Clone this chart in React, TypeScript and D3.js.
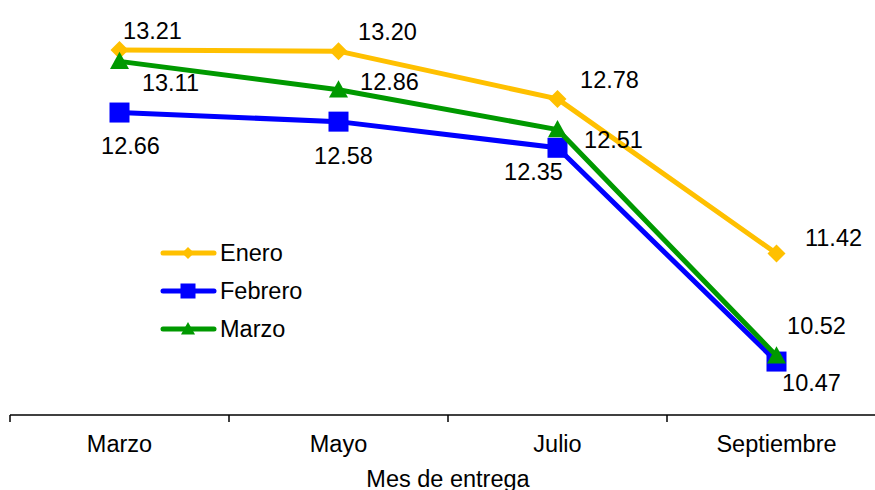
import React from "react";
import * as d3 from "d3";

const months = ["Marzo", "Mayo", "Julio", "Septiembre"];
const seriesNames = ["Enero", "Febrero", "Marzo"];
const enero = [13.21, 13.2, 12.78, 11.42];
const febrero = [12.66, 12.58, 12.35, 10.47];
const marzo = [13.11, 12.86, 12.51, 10.52];
const colors = ["#FFC000", "#0000FF", "#009900"];
const shapes = ["diamond", "square", "triangle"];
const xTitle = "Mes de entrega";

// label offsets (dx, dy of label centre relative to its point)
const labelOffsets = [
  [[33, -19], [49, -19], [52, -19], [57, -16]],
  [[11, 33], [5, 34], [-24, 24], [35, 21]],
  [[51, 21], [51, -8], [56, 10], [40, -30]],
];

const W = 875;
const H = 490;
const axisY = 415;
const FONT = "'Liberation Sans', Arial, sans-serif";
const FS = 23.5;

function Marker({ shape, x, y, color, s }: { shape: string; x: number; y: number; color: string; s: number }) {
  if (shape === "diamond") {
    const r = s * 0.5;
    return <path d={`M${x},${y - r}L${x + r},${y}L${x},${y + r}L${x - r},${y}Z`} fill={color} />;
  }
  if (shape === "square") {
    const r = s * 0.5;
    return <rect x={x - r} y={y - r} width={2 * r} height={2 * r} fill={color} />;
  }
  const r = s * 0.5;
  return <path d={`M${x},${y - r}L${x + r},${y + r * 0.8}L${x - r},${y + r * 0.8}Z`} fill={color} />;
}

export default function App() {
  const data = [enero, febrero, marzo];
  const x = d3.scaleBand<string>().domain(months).range([10, 886]);
  const y = d3.scaleLinear().domain([10, 13.21]).range([axisY, 50]);
  const line = d3
    .line<number>()
    .x((_, i) => (x(months[i]) as number) + x.bandwidth() / 2)
    .y((v) => y(v));
  const cx = (i: number) => (x(months[i]) as number) + x.bandwidth() / 2;
  const markerSize = [18, 20, 19];

  return (
    <svg width={W} height={H} style={{ position: "absolute", left: 0, top: 0, background: "#fff" }} fontFamily={FONT}>
      {/* x axis */}
      <line x1={10} x2={W} y1={axisY} y2={axisY} stroke="#000" strokeWidth={1.5} />
      {months.map((m) => (
        <line key={m} x1={x(m) as number} x2={x(m) as number} y1={axisY} y2={axisY + 7} stroke="#000" strokeWidth={1.5} />
      ))}
      {months.map((m, i) => (
        <text key={m} x={cx(i)} y={452} textAnchor="middle" fontSize={FS} fill="#000">
          {m}
        </text>
      ))}
      <text x={448} y={487} textAnchor="middle" fontSize={FS} fill="#000">
        {xTitle}
      </text>

      {/* series */}
      {data.map((vals, s) => (
        <g key={seriesNames[s]}>
          <path d={line(vals) as string} fill="none" stroke={colors[s]} strokeWidth={5} strokeLinejoin="round" />
          {vals.map((v, i) => (
            <Marker key={i} shape={shapes[s]} x={cx(i)} y={y(v)} color={colors[s]} s={markerSize[s]} />
          ))}
        </g>
      ))}

      {/* data labels */}
      {data.map((vals, s) =>
        vals.map((v, i) => (
          <text
            key={`${s}-${i}`}
            x={cx(i) + labelOffsets[s][i][0]}
            y={y(v) + labelOffsets[s][i][1]}
            dy="0.35em"
            textAnchor="middle"
            fontSize={FS}
            fill="#000"
          >
            {v.toFixed(2)}
          </text>
        ))
      )}

      {/* legend */}
      {seriesNames.map((n, s) => {
        const ly = 253 + s * 38;
        return (
          <g key={n}>
            <line x1={163} x2={214} y1={ly} y2={ly} stroke={colors[s]} strokeWidth={5} strokeLinecap="round" />
            <Marker shape={shapes[s]} x={188} y={ly} color={colors[s]} s={[12, 15, 14][s]} />
            <text x={220} y={ly} dy="0.35em" fontSize={FS} fill="#000">
              {n}
            </text>
          </g>
        );
      })}
    </svg>
  );
}
